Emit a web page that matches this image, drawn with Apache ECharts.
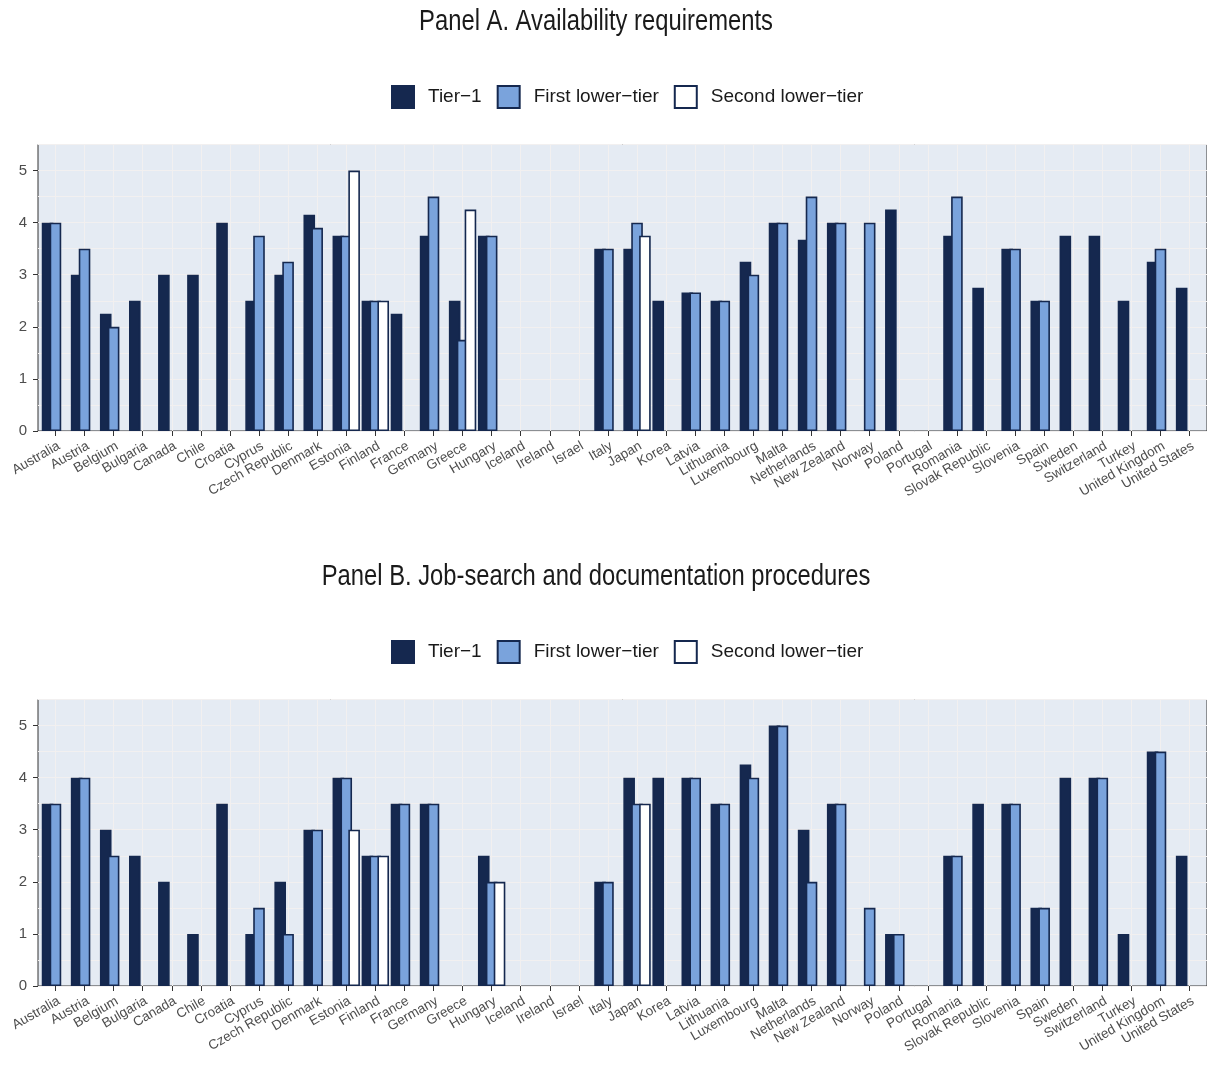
<!DOCTYPE html>
<html>
<head>
<meta charset="utf-8">
<script src="https://cdn.jsdelivr.net/npm/echarts@6/dist/echarts.min.js"></script>
<style>
  html, body { margin: 0; padding: 0; background: #ffffff; }
  #chart { width: 1207px; height: 1070px; }
</style>
</head>
<body>
<div id="chart"></div>
<script>
// Countries along the x axis (same order in both panels)
const countries = ['Australia', 'Austria', 'Belgium', 'Bulgaria', 'Canada', 'Chile', 'Croatia', 'Cyprus',
  'Czech Republic', 'Denmark', 'Estonia', 'Finland', 'France', 'Germany', 'Greece', 'Hungary', 'Iceland',
  'Ireland', 'Israel', 'Italy', 'Japan', 'Korea', 'Latvia', 'Lithuania', 'Luxembourg', 'Malta',
  'Netherlands', 'New Zealand', 'Norway', 'Poland', 'Portugal', 'Romania', 'Slovak Republic', 'Slovenia',
  'Spain', 'Sweden', 'Switzerland', 'Turkey', 'United Kingdom', 'United States'];

const seriesNames = ['Tier\u22121', 'First lower\u2212tier', 'Second lower\u2212tier'];
const panelTitles = ['Panel A. Availability requirements', 'Panel B. Job-search and documentation procedures'];
const yTicks = [0, 1, 2, 3, 4, 5];

// Panel A: availability requirements
const tier1A = [4, 3, 2.25, 2.5, 3, 3, 4, 2.5, 3, 4.15, 3.75, 2.5, 2.25, 3.75, 2.5, 3.75, null, null, null,
  3.5, 3.5, 2.5, 2.66, 2.5, 3.25, 4, 3.67, 4, null, 4.25, null, 3.75, 2.75, 3.5, 2.5, 3.75, 3.75, 2.5, 3.25, 2.75];
const firstA = [4, 3.5, 2, null, null, null, null, 3.75, 3.25, 3.9, 3.75, 2.5, null, 4.5, 1.75, 3.75, null, null, null,
  3.5, 4, null, 2.66, 2.5, 3, 4, 4.5, 4, 4, null, null, 4.5, null, 3.5, 2.5, null, null, null, 3.5, null];
const secondA = [null, null, null, null, null, null, null, null, null, null, 5, 2.5, null, null, 4.25, null, null, null, null,
  null, 3.75, null, null, null, null, null, null, null, null, null, null, null, null, null, null, null, null, null, null, null];

// Panel B: job-search and documentation procedures
const tier1B = [3.5, 4, 3, 2.5, 2, 1, 3.5, 1, 2, 3, 4, 2.5, 3.5, 3.5, null, 2.5, null, null, null,
  2, 4, 4, 4, 3.5, 4.25, 5, 3, 3.5, null, 1, null, 2.5, 3.5, 3.5, 1.5, 4, 4, 1, 4.5, 2.5];
const firstB = [3.5, 4, 2.5, null, null, null, null, 1.5, 1, 3, 4, 2.5, 3.5, 3.5, null, 2, null, null, null,
  2, 3.5, null, 4, 3.5, 4, 5, 2, 3.5, 1.5, 1, null, 2.5, null, 3.5, 1.5, null, 4, null, 4.5, null];
const secondB = [null, null, null, null, null, null, null, null, null, null, 3, 2.5, null, null, null, 2, null, null, null,
  null, 3.5, null, null, null, null, null, null, null, null, null, null, null, null, null, null, null, null, null, null, null];

const panelData = [[tier1A, firstA, secondA], [tier1B, firstB, secondB]];

const NAVY = '#15284f';
const BLUE = '#7aa3dc';
const fills = [NAVY, BLUE, '#ffffff'];
const FONT = '"Liberation Sans", Arial, Helvetica, sans-serif';

const panelTop = [144.5, 699.5];
const panelHeight = 286.5;
const legendTop = [85, 640];
const titleY = [22, 577];

const countryIdx = countries.map((c, i) => i);

const grids = [], xAxes = [], yAxes = [], series = [], legends = [], texts = [];

panelTop.forEach((top, p) => {
  grids.push({
    left: 38, top: top, width: 1169, height: panelHeight,
    show: true, backgroundColor: '#e5ebf3', borderColor: '#333333', borderWidth: 1
  });

  xAxes.push({
    type: 'value', gridIndex: p, min: -0.6, max: 39.6, position: 'bottom',
    axisLine: { show: false, onZero: false },
    axisTick: { show: true, length: 5, customValues: countryIdx, lineStyle: { color: '#333333', width: 1 } },
    axisLabel: {
      customValues: countryIdx, rotate: 30, margin: 8,
      align: 'right', verticalAlign: 'top',
      fontFamily: FONT, fontSize: 13.5, color: '#4d4d4d',
      formatter: v => countries[Math.round(v)]
    },
    splitLine: { show: true, lineStyle: { color: '#f2f0f0', width: 1 } }
  });

  // main y axis: integer ticks and labels
  yAxes.push({
    type: 'value', gridIndex: p, min: 0, max: 5.5, position: 'left',
    axisLine: { show: false, onZero: false },
    axisTick: { show: true, length: 5, customValues: yTicks, lineStyle: { color: '#333333', width: 1 } },
    axisLabel: { customValues: yTicks, margin: 11, fontFamily: FONT, fontSize: 15, color: '#4d4d4d' },
    splitLine: { show: false }
  });
  // helper y axis only for the half-unit grid lines
  yAxes.push({
    type: 'value', gridIndex: p, min: 0, max: 5.5, interval: 0.5, position: 'left',
    axisLine: { show: false, onZero: false }, axisTick: { show: false }, axisLabel: { show: false },
    splitLine: { show: true, lineStyle: { color: '#f2f0f0', width: 1 } }
  });

  panelData[p].forEach((vals, s) => {
    series.push({
      type: 'bar', name: seriesNames[s],
      xAxisIndex: p, yAxisIndex: p * 2,
      barWidth: 11.6, barGap: '-32%',
      data: vals.map((v, i) => [i, v]).filter(d => d[1] !== null),
      itemStyle: { color: fills[s], borderColor: NAVY, borderWidth: 1.6 },
      emphasis: { disabled: true },
      animation: false
    });
  });

  legends.push({
    top: legendTop[p], left: 391, orient: 'horizontal', padding: 0,
    data: seriesNames, icon: 'rect', itemWidth: 22, itemHeight: 22, itemGap: 15,
    itemStyle: { borderWidth: 2 },
    textStyle: { fontFamily: FONT, fontSize: 19, color: '#1a1a1a', padding: [0, 0, 0, 9] }
  });

  // panel heading, set in a condensed cut of the sans face
  texts.push({
    type: 'text', x: 596, y: titleY[p], scaleX: 0.82,
    style: {
      text: panelTitles[p], fontFamily: FONT, fontSize: 29, fill: '#1a1a1a',
      textAlign: 'center', textVerticalAlign: 'middle'
    }
  });
});

const chart = echarts.init(document.getElementById('chart'), null, { renderer: 'canvas' });
chart.setOption({
  animation: false,
  backgroundColor: '#ffffff',
  grid: grids,
  xAxis: xAxes,
  yAxis: yAxes,
  legend: legends,
  series: series,
  graphic: texts
});
</script>
</body>
</html>
